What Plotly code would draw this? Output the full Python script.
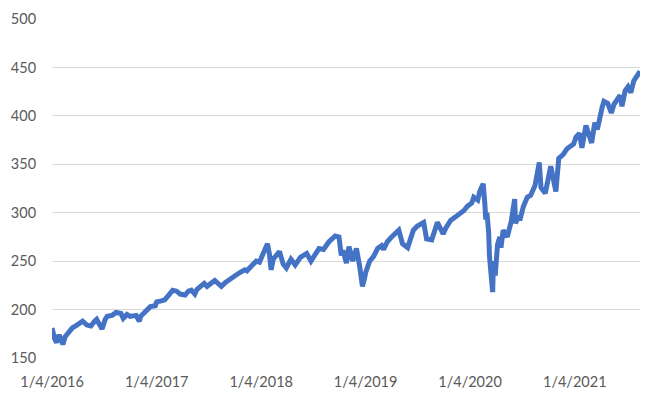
import plotly.graph_objects as go

dates = [
    "2016-01-04","2016-01-08","2016-01-13","2016-01-20","2016-01-29","2016-02-03","2016-02-11","2016-02-19",
    "2016-03-01","2016-03-15","2016-03-31","2016-04-13","2016-04-20","2016-05-05","2016-05-19","2016-06-01",
    "2016-06-08","2016-06-15","2016-06-27","2016-07-08","2016-07-15","2016-08-01","2016-08-15","2016-09-01",
    "2016-09-09","2016-09-22","2016-10-03","2016-10-24","2016-11-04","2016-11-09","2016-11-25","2016-12-13",
    "2016-12-30",
    "2017-01-04","2017-01-20","2017-02-01","2017-02-15","2017-03-01","2017-03-15","2017-03-27","2017-04-13",
    "2017-04-25","2017-05-05","2017-05-17","2017-05-25","2017-06-09","2017-06-19","2017-06-29","2017-07-14",
    "2017-07-26","2017-08-10","2017-08-18","2017-09-01","2017-09-20","2017-10-05","2017-10-20","2017-11-08",
    "2017-11-15","2017-12-01","2017-12-18","2017-12-29",
    "2018-01-12","2018-01-26","2018-02-02","2018-02-08","2018-02-15","2018-02-26","2018-03-09","2018-03-22",
    "2018-04-02","2018-04-18","2018-05-03","2018-05-21","2018-06-12","2018-06-27","2018-07-09","2018-07-25",
    "2018-08-10","2018-08-29","2018-09-20","2018-10-03","2018-10-11","2018-10-17","2018-10-29","2018-11-07",
    "2018-11-20","2018-12-03","2018-12-14","2018-12-24","2018-12-31",
    "2019-01-04","2019-01-18","2019-02-01","2019-02-15","2019-03-01","2019-03-08","2019-03-21","2019-04-05",
    "2019-04-30","2019-05-13","2019-05-31","2019-06-20","2019-07-03","2019-07-26","2019-08-05","2019-08-23",
    "2019-09-12","2019-10-02","2019-10-11","2019-10-28","2019-11-15","2019-11-29","2019-12-13","2019-12-27",
    "2020-01-10","2020-01-17","2020-01-31","2020-02-07","2020-02-19","2020-02-25","2020-02-28","2020-03-03",
    "2020-03-09","2020-03-12","2020-03-16","2020-03-23","2020-03-26","2020-04-01","2020-04-09","2020-04-17",
    "2020-04-21","2020-04-29","2020-05-13","2020-05-27","2020-06-08","2020-06-11","2020-06-22","2020-06-26",
    "2020-07-08","2020-07-22","2020-08-03","2020-08-18","2020-09-02","2020-09-08","2020-09-23","2020-10-12",
    "2020-10-30","2020-11-09","2020-11-24","2020-12-08","2020-12-31",
    "2021-01-08","2021-01-20","2021-01-29","2021-02-12","2021-02-25","2021-03-04","2021-03-15","2021-03-24",
    "2021-04-09","2021-04-16","2021-04-29","2021-05-12","2021-05-21","2021-06-01","2021-06-11","2021-06-18",
    "2021-06-29","2021-07-09","2021-07-19","2021-07-29","2021-08-10","2021-08-20",
]

prices = [
    181,172,170,166,174,170,164,172,
    176,181,184,186,188,184,183,188,
    190,186,180,190,193,194,197,196,
    191,195,193,194,188,193,198,203,
    204,
    208,209,210,215,220,219,216,215,
    219,220,216,221,224,227,224,228,
    230,226,224,228,232,236,238,241,
    240,245,250,249,
    258,268,257,241,252,257,260,247,
    243,252,246,254,258,250,256,263,
    262,270,276,275,256,261,248,265,
    250,263,245,224,232,
    238,250,255,263,266,262,270,275,
    282,268,264,282,286,290,273,272,
    290,278,284,292,296,298,302,307,
    310,316,313,322,330,308,293,300,
    280,255,240,218,250,235,267,275,
    264,282,275,291,314,289,297,292,
    306,316,318,328,352,326,320,348,
    322,356,360,366,371,
    378,382,367,390,380,372,393,386,
    408,415,413,403,412,418,421,410,
    426,430,424,436,442,446,
]

tick_dates = ["2016-01-04","2017-01-04","2018-01-04","2019-01-04","2020-01-04","2021-01-04"]
tick_labels = ["1/4/2016","1/4/2017","1/4/2018","1/4/2019","1/4/2020","1/4/2021"]

fig = go.Figure(go.Scatter(
    x=dates, y=prices, mode="lines",
    line=dict(color="#4472C4", width=5),
    hoverinfo="skip",
))

font = dict(family="Lato, 'Open Sans', sans-serif", size=14.5, color="#595959")

fig.update_layout(
    width=658, height=400,
    margin=dict(l=44, r=26, t=11, b=50, autoexpand=False),
    paper_bgcolor="white", plot_bgcolor="white",
    showlegend=False,
    font=font,
    xaxis=dict(
        type="date", automargin=False,
        range=[dates[0], dates[-1]],
        tickvals=tick_dates, ticktext=tick_labels,
        showgrid=False, zeroline=False, showline=False,
        ticks="outside", ticklen=11, tickcolor="rgba(0,0,0,0)",
        tickfont=font,
    ),
    yaxis=dict(
        automargin=False,
        range=[150, 500], dtick=50, tick0=150,
        showgrid=True, gridcolor="#D9D9D9", gridwidth=1,
        zeroline=False, showline=False,
        ticks="outside", ticklen=12, tickcolor="rgba(0,0,0,0)",
        tickfont=font,
    ),
)

fig.write_html("out.html")
